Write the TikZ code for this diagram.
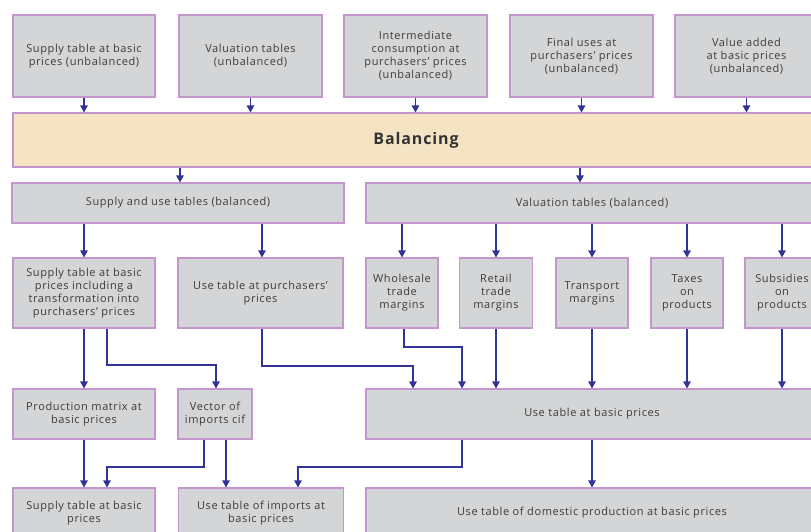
\documentclass[tikz,border=0pt]{standalone}
\usepackage{fontspec}
\setmainfont{Open Sans}[LetterSpace=5.5]
\usetikzlibrary{arrows.meta}
\definecolor{boxgray}{RGB}{212,213,215}
\definecolor{boxline}{RGB}{196,150,205}
\definecolor{balfill}{RGB}{244,228,196}
\definecolor{arrblue}{RGB}{48,52,150}
\definecolor{txtgray}{RGB}{60,60,60}
\tikzset{
  box/.style={draw=boxline, fill=boxgray, line width=1.1pt, align=center,
    inner sep=2pt, text=txtgray, font=\fontsize{11}{13}\selectfont},
  balbox/.style={box, fill=balfill, text=black!80, font=\fontsize{16}{18}\selectfont\bfseries},
  conn/.style={draw=arrblue, line width=1.2pt, -{Triangle[width=7.5pt,length=7pt]}},
}
\begin{document}
\begin{tikzpicture}[x=1pt,y=-1pt]
\clip (0,0) rectangle (811,532);
\useasboundingbox (0,0) rectangle (811,532);
\fill[white] (0,0) rectangle (811,532);
% top row
\node[box, minimum width=142pt, minimum height=82pt] (t1) at (84,56) {Supply table at basic\\prices (unbalanced)};
\node[box, minimum width=143pt, minimum height=82pt] (t2) at (250.5,56) {Valuation tables\\(unbalanced)};
\node[box, minimum width=143pt, minimum height=82pt] (t3) at (415.5,56) {Intermediate\\consumption at\\purchasers' prices\\(unbalanced)};
\node[box, minimum width=143pt, minimum height=82pt] (t4) at (581.5,56) {Final uses at\\purchasers' prices\\(unbalanced)};
\node[box, minimum width=143pt, minimum height=82pt] (t5) at (746.5,56) {Value added\\at basic prices\\(unbalanced)};
% balancing
\node[balbox, minimum width=806pt, minimum height=54pt] (bal) at (416,140) {Balancing};
% row 3
\node[box, minimum width=332pt, minimum height=40pt] (su) at (178,203) {Supply and use tables (balanced)};
\node[box, minimum width=452pt, minimum height=40pt] (vt) at (592,203) {Valuation tables (balanced)};
% row 4
\node[box, minimum width=142pt, minimum height=70pt] (a) at (84,293) {Supply table at basic\\prices including a\\transformation into\\purchasers' prices};
\node[box, minimum width=165pt, minimum height=70pt] (b) at (260.5,293) {Use table at purchasers'\\prices};
\node[box, minimum width=72pt, minimum height=70pt] (ws) at (402,293) {Wholesale\\trade\\margins};
\node[box, minimum width=73pt, minimum height=70pt] (rt) at (496,293) {Retail\\trade\\margins};
\node[box, minimum width=72pt, minimum height=70pt] (tr) at (592,293) {Transport\\margins};
\node[box, minimum width=72pt, minimum height=70pt] (tx) at (687,293) {Taxes\\on\\products};
\node[box, minimum width=74pt, minimum height=70pt] (sb) at (782,293) {Subsidies\\on\\products};
% row 5
\node[box, minimum width=142pt, minimum height=50pt] (pm) at (84,414) {Production matrix at\\basic prices};
\node[box, minimum width=74pt, minimum height=50pt] (vi) at (215,414) {Vector of\\imports cif};
\node[box, minimum width=452pt, minimum height=50pt] (ub) at (592,414) {Use table at basic prices};
% row 6
\node[box, minimum width=142pt, minimum height=50pt] (sbp) at (84,513) {Supply table at basic\\prices};
\node[box, minimum width=165pt, minimum height=50pt] (ui) at (261,513) {Use table of imports at\\basic prices};
\node[box, minimum width=452pt, minimum height=50pt] (ud) at (592,513) {Use table of domestic production at basic prices};
% helper coordinates
\coordinate (x180) at (180,0);
\coordinate (x580) at (580,0);
\coordinate (k1) at (107,365);
\coordinate (k1e) at (216,365);
\coordinate (k2) at (262,366);
\coordinate (k2e) at (413,366);
\coordinate (k3) at (404,347);
\coordinate (k3e) at (462,347);
\coordinate (k4) at (204,467);
\coordinate (k4e) at (107,467);
\coordinate (k5) at (226,0);
\coordinate (k6) at (462,467);
\coordinate (k6e) at (298,467);
% top to balancing
\foreach \n in {t1,t2,t3,t4,t5}
  \draw[conn] (\n.south) -- (\n.south |- bal.north);
% balancing to row 3
\draw[conn] (x180 |- bal.south) -- (x180 |- su.north);
\draw[conn] (x580 |- bal.south) -- (x580 |- vt.north);
% row 3 to row 4
\draw[conn] (su.south -| a.north) -- (a.north);
\draw[conn] (su.south -| k2) -- (k2 |- b.north);
\foreach \n in {ws,rt,tr,tx,sb}
  \draw[conn] (vt.south -| \n.north) -- (\n.north);
% row 4 to row 5
\draw[conn] (a.south) -- (pm.north);
\draw[conn] (a.south -| k1) -- (k1) -- (k1e) -- (k1e |- vi.north);
\draw[conn] (k2 |- b.south) -- (k2) -- (k2e) -- (k2e |- ub.north);
\draw[conn] (k3 |- ws.south) -- (k3) -- (k3e) -- (k3e |- ub.north);
\foreach \n in {rt,tr,tx,sb}
  \draw[conn] (\n.south) -- (\n.south |- ub.north);
% row 5 to row 6
\draw[conn] (pm.south) -- (sbp.north);
\draw[conn] (k4 |- vi.south) -- (k4) -- (k4e) -- (k4e |- sbp.north);
\draw[conn] (k5 |- vi.south) -- (k5 |- ui.north);
\draw[conn] (k6 |- ub.south) -- (k6) -- (k6e) -- (k6e |- ui.north);
\draw[conn] (ub.south -| tr.south) -- (tr.south |- ud.north);
\end{tikzpicture}
\end{document}
